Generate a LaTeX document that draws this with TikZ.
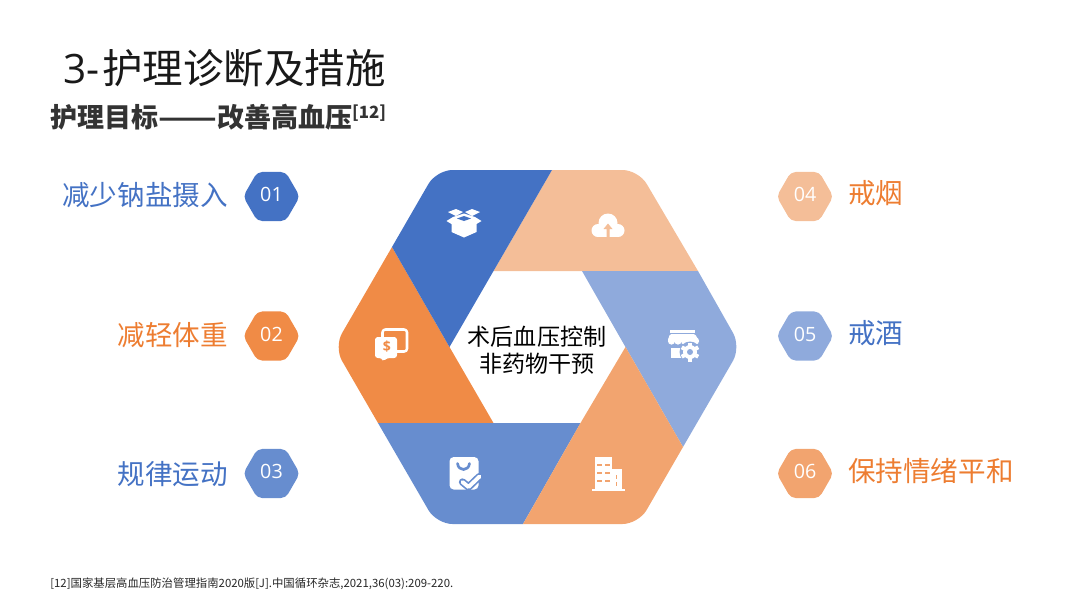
\documentclass[tikz,border=0pt]{standalone}
\usepackage{fontspec}
\setmainfont{Noto Sans CJK SC}
\newfontfamily\latinfont{Open Sans}
\usetikzlibrary{shapes.geometric}

\definecolor{blueA}{HTML}{4472C4}
\definecolor{orangeB}{HTML}{F08B46}
\definecolor{blueC}{HTML}{678DCF}
\definecolor{peachD}{HTML}{F4BE98}
\definecolor{blueE}{HTML}{8FAADC}
\definecolor{orangeF}{HTML}{F2A46F}
\definecolor{textorange}{HTML}{ED7D31}

\tikzset{
  badge/.style={regular polygon,regular polygon sides=6,minimum size=40.3pt,inner sep=0pt,
    rounded corners=3.5pt,text=white,font=\fontsize{14}{14}\selectfont\latinfont},
  itemleft/.style={anchor=east,inner sep=0pt,font=\fontsize{19.6}{22}\selectfont},
  itemright/.style={anchor=west,inner sep=0pt,font=\fontsize{19.6}{22}\selectfont},
  outer/.style={rounded corners=11.4pt},
}

\begin{document}
\begin{tikzpicture}[x=0.025cm,y=-0.025cm,line join=round]
  \useasboundingbox (0,0) rectangle (1080,608);
  % outer hexagon
  \coordinate (OL) at (334,347);
  \coordinate (OTL) at (436.5,170);
  \coordinate (OTR) at (638.5,170);
  \coordinate (OR) at (741,347);
  \coordinate (OBR) at (638.5,524);
  \coordinate (OBL) at (436.5,524);
  % seams on the outer hexagon
  \coordinate (SA) at (392,247);
  \coordinate (SB) at (552,170);
  \coordinate (SC) at (698,271);
  \coordinate (SD) at (683,447);
  \coordinate (SE) at (523,524);
  \coordinate (SF) at (378,423);
  % inner hexagon
  \coordinate (IL) at (449.5,347);
  \coordinate (ITL) at (493.5,271);
  \coordinate (ITR) at (582,271);
  \coordinate (IR) at (625.5,347);
  \coordinate (IBR) at (580.5,423);
  \coordinate (IBL) at (493.5,423);

  \fill[peachD] (SB) [outer] -- (OTR) [sharp corners] -- (SC) -- (ITL) -- cycle;
  \fill[orangeB] (SF) [outer] -- (OL) [sharp corners] -- (SA) -- (IL) -- (IBL) -- cycle;
  \fill[blueC] (SE) [outer] -- (OBL) [sharp corners] -- (SF) -- (IBR) -- cycle;
  \fill[blueE] (SC) [outer] -- (OR) [sharp corners] -- (SD) -- (IR) -- (ITR) -- cycle;
  \fill[blueA] (SA) [outer] -- (OTL) [sharp corners] -- (SB) -- (ITL) -- (IL) -- cycle;
  \fill[orangeF] (SD) [outer] -- (OBR) [sharp corners] -- (SE) -- (IBR) -- (IR) -- cycle;

  % box
  \begin{scope}[shift={(464,222)},white]
    \fill (-16,-10) -- (-8,-13) -- (-1,-10) -- (-8,-6) -- cycle;
    \fill (16,-10) -- (8,-13) -- (1,-10) -- (8,-6) -- cycle;
    \fill (-17.5,-1) -- (-11,-5) -- (0,-8.5) -- (11,-5) -- (17.5,-1) -- (12.5,2) -- (12.5,10) -- (0,15.5) -- (-12.5,10) -- (-12.5,2) -- cycle;
    \fill[blueA] (-7,-3.5) -- (0,-6) -- (7,-3.5) -- (0,-1) -- cycle;
  \end{scope}
  % cloud
  \begin{scope}[shift={(608,227)}]
    \fill[white] (-10,3.5) circle (6.5);
    \fill[white] (10,3.5) circle (6.5);
    \fill[white] (0,-4) circle (9.5);
    \fill[white] (-10,2) rectangle (10,10);
    \fill[peachD] (-1.5,10) -- (-1.5,2) -- (-4.5,2) -- (0,-3.5) -- (4.5,2) -- (1.5,2) -- (1.5,10) -- cycle;
  \end{scope}
  % chat
  \draw[white,line width=1.8pt,rounded corners=2pt] (382.5,337) -- (382.5,329.5) -- (407,329.5) -- (407,351.5) -- (397,351.5);
  \fill[white,rounded corners=2pt] (375,337) -- (397,337) -- (397,358) -- (387,358) -- (383,361.5) -- (382,358) -- (375,358) -- cycle;
  \node[inner sep=0pt,text=orangeB,font=\fontsize{10}{10}\selectfont\latinfont\bfseries] (dollar) at (387,347) {\$};
  % shop
  \fill[white] (670,330) rectangle (695,332.5);
  \fill[white,rounded corners=1pt] (670,334) -- (695,334) -- (699,341) -- (667.5,341) -- cycle;
  \foreach \cx in {671.5,678,684.5,691,695.5} \fill[white] (\cx,341) circle (3.6);
  \fill[white] (671,348) rectangle (695,358);
  \fill[blueE] (690,352) circle (10.5);
  \fill[white] (690,352) circle (7);
  \foreach \ang in {0,60,...,300} \fill[white,rotate around={\ang:(690,352)}] (688,342.5) rectangle (692,346);
  \fill[blueE] (690,352) circle (3);
  % bag
  \fill[white,rounded corners=3pt] (449.5,457) rectangle (478.5,489.5);
  \draw[blueC,line width=1.9pt,line cap=round] (457.5,463.5) .. controls (458.5,471.5) and (468.5,471.5) .. (469.5,463.5);
  \draw[blueC,line width=5.2pt,line cap=round] (462.5,482) -- (468.5,487) -- (479.5,476.5);
  \draw[white,line width=2.8pt,line cap=round] (462.5,482) -- (468.5,487) -- (479.5,476.5);
  % building
  \fill[white] (594.5,457) rectangle (611.5,489);
  \fill[white] (611.5,468.5) rectangle (621.5,489);
  \fill[white] (591.5,488.5) rectangle (625,490.5);
  \foreach \wy in {464.5,472.5,480.5} {
    \fill[orangeF] (597,\wy-1) rectangle (601.5,\wy+1);
    \fill[orangeF] (605,\wy-1) rectangle (609.5,\wy+1);
  }
  \fill[orangeF] (615.5,475) rectangle (617,478.5);
  \fill[orangeF] (615.5,482) rectangle (617,486);

  \node[anchor=west,inner sep=0pt,text=black!90,font=\fontsize{28.8}{32}\selectfont] (title) at (63,68) {{\latinfont 3-}\hspace{2pt}护理诊断及措施};
  \node[anchor=west,inner sep=0pt,text=black!80,font=\fontsize{19.2}{22}\selectfont\bfseries] (subtitle) at (50,117) {护理目标\scalebox{1.27}[1]{——}改善高血压\raisebox{6pt}{\fontsize{12}{12}\selectfont [12]}};
  \node[align=center,inner sep=0pt,text=black,font=\fontsize{16.4}{19.5}\selectfont] (center) at (537,350.5) {术后血压控制\\非药物干预};

  \node[badge,fill=blueA] (b1) at (271.5,196.5) {\raisebox{2.5pt}{01}};
  \node[badge,fill=orangeB] (b2) at (271.5,336) {\raisebox{2.5pt}{02}};
  \node[badge,fill=blueC] (b3) at (271.5,473.5) {\raisebox{2.5pt}{03}};
  \node[badge,fill=peachD] (b4) at (805,196.5) {\raisebox{2.5pt}{04}};
  \node[badge,fill=blueE] (b5) at (805,336) {\raisebox{2.5pt}{05}};
  \node[badge,fill=orangeF] (b6) at (805,473.5) {\raisebox{2.5pt}{06}};

  \node[itemleft,text=blueA] (l1) at (228,195) {减少钠盐摄入};
  \node[itemleft,text=textorange] (l2) at (228,335) {减轻体重};
  \node[itemleft,text=blueA] (l3) at (228,474) {规律运动};
  \node[itemright,text=textorange] (l4) at (848,193) {戒烟};
  \node[itemright,text=blueA] (l5) at (848,333) {戒酒};
  \node[itemright,text=textorange] (l6) at (848,471) {保持情绪平和};

  \node[anchor=west,inner sep=0pt,text=black!85,font=\fontsize{8.1}{10}\selectfont] (ref) at (50,584) {[12]国家基层高血压防治管理指南2020版[J].中国循环杂志,2021,36(03):209-220.};
\end{tikzpicture}
\end{document}
